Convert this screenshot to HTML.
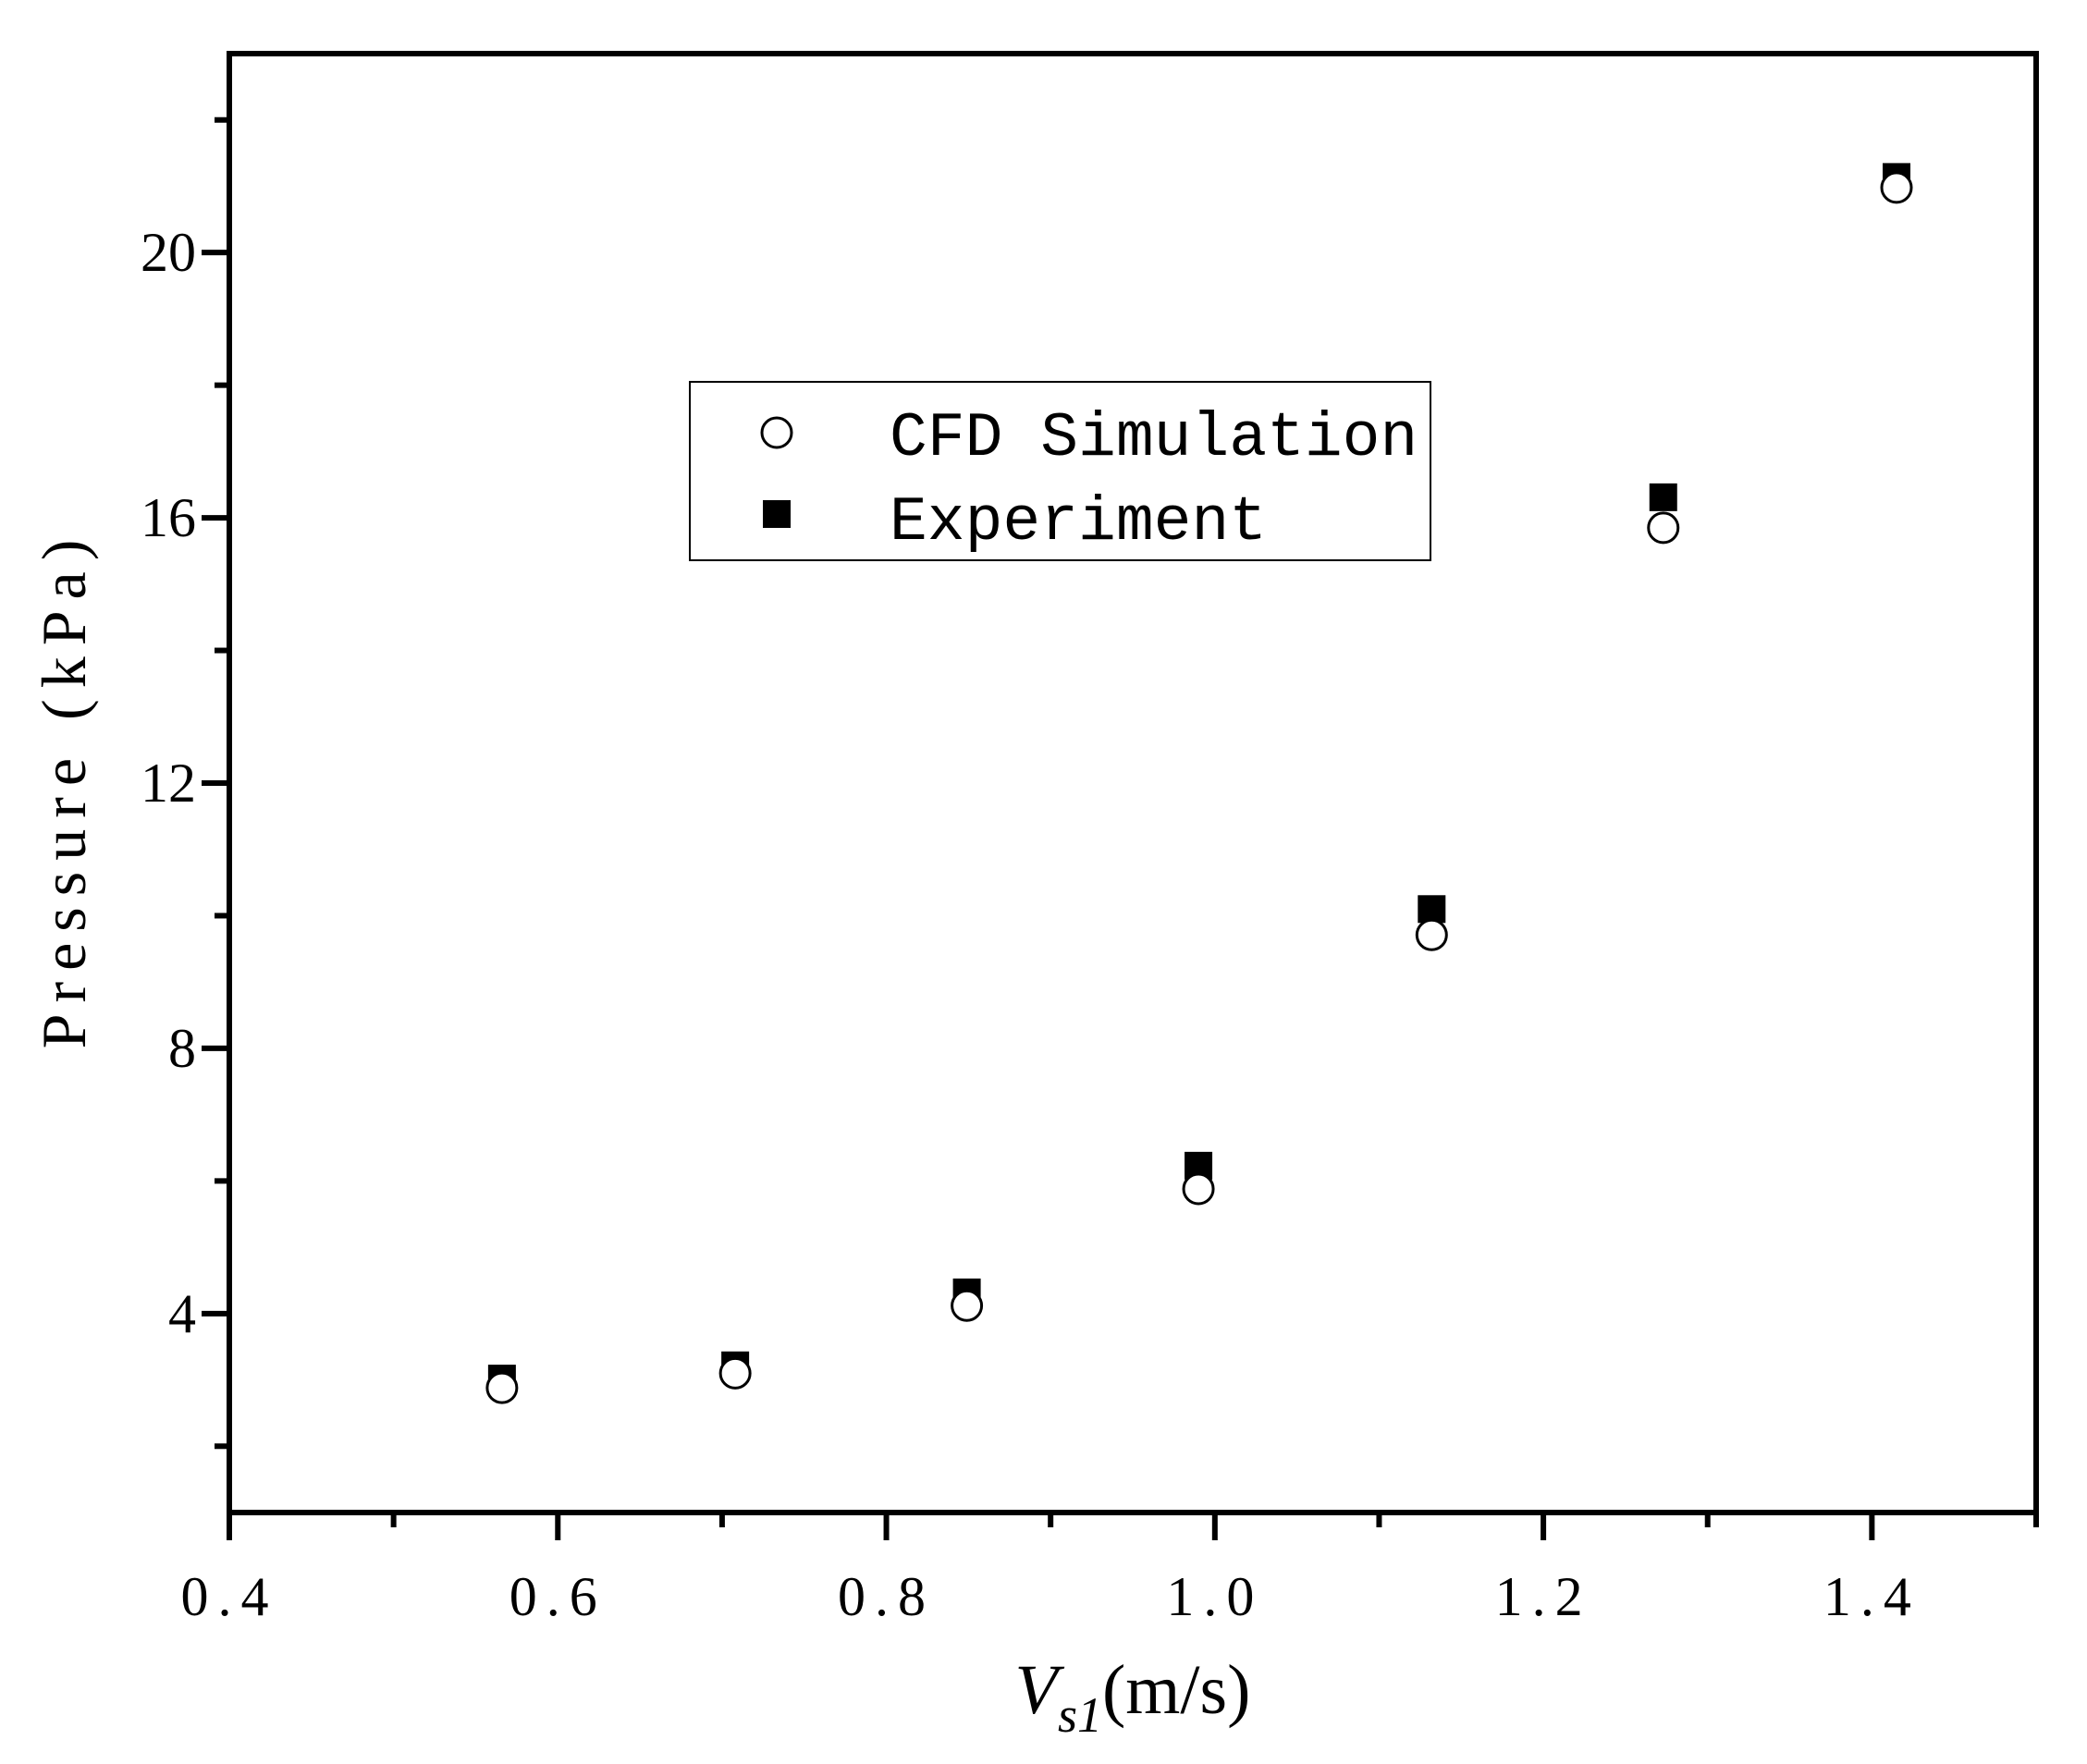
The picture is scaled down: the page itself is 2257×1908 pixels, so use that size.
<!DOCTYPE html>
<html><head><meta charset="utf-8"><style>
html,body{margin:0;padding:0;background:#fff;}
svg{display:block;}
text{font-family:"Liberation Serif","Noto Serif CJK SC",serif;fill:#000;}
</style></head><body>
<svg id="chart" width="2257" height="1908" viewBox="0 0 2257 1908">
<g id="axes"></g>
<g id="marks"></g>
<g>
<rect x="746" y="413" width="801" height="193" fill="#fff" stroke="#000" stroke-width="2"/>
<circle cx="840" cy="468" r="16" fill="#fff" stroke="#000" stroke-width="3"/>
<text x="962" y="492" font-size="68" letter-spacing="0" style="font-family:'Liberation Mono',monospace">CFD Simulation</text>
<rect x="825" y="541" width="30" height="30" fill="#000"/>
<text x="962" y="583" font-size="68" letter-spacing="0" style="font-family:'Liberation Mono',monospace">Experiment</text>
</g>
<text transform="translate(92,853) rotate(-90)" text-anchor="middle" font-size="68" letter-spacing="12">Pressure (kPa)</text>
<text x="1225" y="1853" text-anchor="middle" font-size="76"><tspan font-style="italic">V</tspan><tspan font-style="italic" font-size="54" dy="20">s1</tspan><tspan dy="-20">(m/s)</tspan></text>
</svg>
<script>
const xVals=[0.566,0.708,0.849,0.990,1.132,1.273,1.415];
const cfdVals=[2.88,3.10,4.12,5.88,9.71,15.85,20.98];
const expVals=[3.02,3.22,4.32,6.23,10.10,16.31,21.14];
const xTicks=[0.4,0.6,0.8,1.0,1.2,1.4];
const xTickLabels=["0.4","0.6","0.8","1.0","1.2","1.4"];
const yTicks=[4,8,12,16,20];
const yTickLabels=["4","8","12","16","20"];
const L=248,R=2202,T=58,B=1636,X0=0.4,X1=1.5,Y0=1,Y1=23;
function sx(v){return L+(v-X0)/(X1-X0)*(R-L);}
function sy(v){return B-(v-Y0)/(Y1-Y0)*(B-T);}
const NS="http://www.w3.org/2000/svg";
const axes=document.getElementById('axes'),marks=document.getElementById('marks');
function mk(tag,attrs,parent){const e=document.createElementNS(NS,tag);for(const k in attrs)e.setAttribute(k,attrs[k]);parent.appendChild(e);return e;}
let f=mk('rect',{x:L,y:T,width:R-L,height:B-T,fill:'none',stroke:'#000','stroke-width':6},axes);


for(let v=0.5;v<1.5;v+=0.2){const t=mk('line',{x1:sx(v),x2:sx(v),y1:B,y2:B+16,stroke:'#000','stroke-width':6},axes);

}
xTicks.forEach((v,i)=>{const t=mk('line',{x1:sx(v),x2:sx(v),y1:B,y2:B+30,stroke:'#000','stroke-width':6},axes);


const l=mk('text',{x:sx(v),y:1747,'text-anchor':'middle','font-size':60,'letter-spacing':10},axes);l.textContent=xTickLabels[i];

});
for(let v=2;v<=22;v+=4){const t=mk('line',{x1:L,x2:L-16,y1:sy(v),y2:sy(v),stroke:'#000','stroke-width':6},axes);

}
yTicks.forEach((v,i)=>{const t=mk('line',{x1:L,x2:L-30,y1:sy(v),y2:sy(v),stroke:'#000','stroke-width':6},axes);


const l=mk('text',{x:212,y:sy(v)+20,'text-anchor':'end','font-size':60},axes);l.textContent=yTickLabels[i];

});
xVals.forEach((x,i)=>{const r=mk('rect',{x:sx(x)-15,y:sy(expVals[i])-15,width:30,height:30,fill:'#000'},marks);


const c=mk('circle',{cx:sx(x),cy:sy(cfdVals[i]),r:16,fill:'#fff',stroke:'#000','stroke-width':3},marks);

});
</script>
</body></html>
